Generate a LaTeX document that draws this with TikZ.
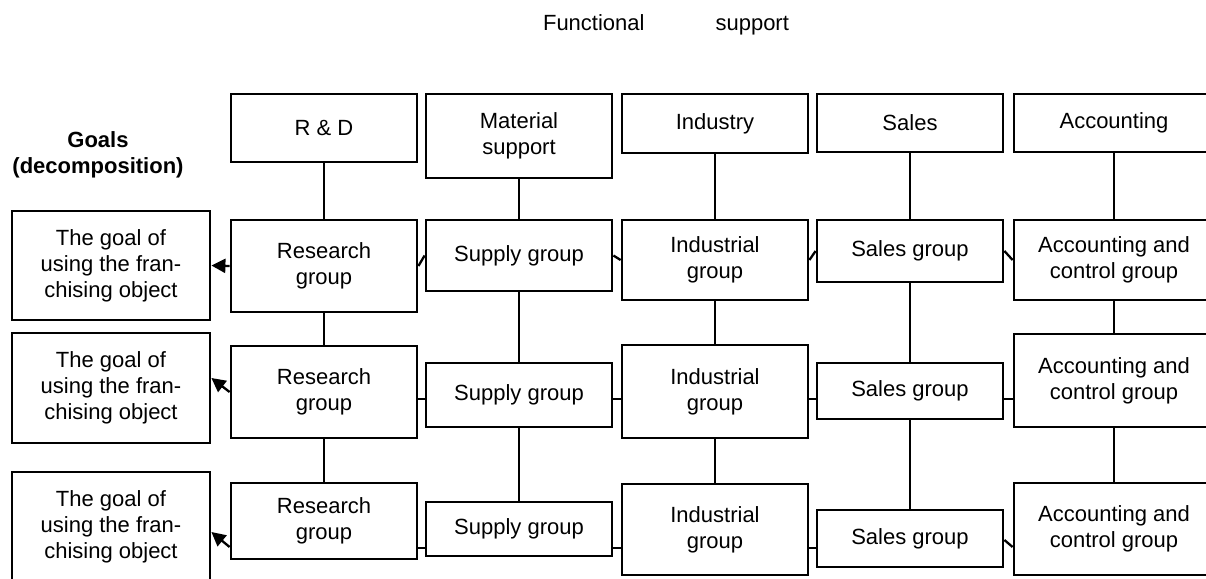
\documentclass[tikz,border=0pt]{standalone}
\usepackage{fontspec}
\setmainfont{Liberation Sans}
\usetikzlibrary{arrows.meta}
\begin{document}
\begin{tikzpicture}[x=1pt,y=-1pt,
  box/.style={draw, line width=2.8pt, rectangle, inner sep=0pt, align=center,
    font=\fontsize{22}{26}\selectfont, minimum width=186pt},
  link/.style={line width=2.3pt},
  goalarrow/.style={line width=2.3pt, -{Triangle[length=14pt,width=14pt]}},
  label/.style={align=center, inner sep=0pt, font=\fontsize{22}{26}\selectfont}]
\useasboundingbox (0,0) rectangle (1206,578);
\clip (0,0) rectangle (1206,578);

% headings
\node[label] (title) at (666,25) {Functional\hspace{71pt}support};
\node[label, font=\fontsize{22}{26}\selectfont\bfseries] (goals) at (98,155) {Goals\\(decomposition)};

% functional support boxes
\node[box, minimum height=68pt] (rd)  at (324,128)   {R \& D};
\node[box, minimum height=84pt] (ms)  at (519,136)   {Material\\support};
\node[box, minimum height=59pt] (ind) at (715,123.5) {Industry};
\node[box, minimum height=58pt] (sal) at (910,123)   {Sales};
\node[box, minimum height=58pt, minimum width=200pt] (acc) at (1114,123) {Accounting};

% row 1
\node[box, minimum height=92pt] (r1)  at (324,266)   {Research\\group};
\node[box, minimum height=71pt] (s1)  at (519,255.5) {Supply group};
\node[box, minimum height=80pt] (i1)  at (715,260)   {Industrial\\group};
\node[box, minimum height=62pt] (sa1) at (910,251)   {Sales group};
\node[box, minimum height=80pt, minimum width=200pt] (a1) at (1114,260) {Accounting and\\control group};

% row 2
\node[box, minimum height=92pt] (r2)  at (324,392)   {Research\\group};
\node[box, minimum height=64pt] (s2)  at (519,395)   {Supply group};
\node[box, minimum height=93pt] (i2)  at (715,391.5) {Industrial\\group};
\node[box, minimum height=56pt] (sa2) at (910,391)   {Sales group};
\node[box, minimum height=93pt, minimum width=200pt] (a2) at (1114,380.5) {Accounting and\\control group};

% row 3
\node[box, minimum height=76pt] (r3)  at (324,521)   {Research\\group};
\node[box, minimum height=54pt] (s3)  at (519,529)   {Supply group};
\node[box, minimum height=91pt] (i3)  at (715,529.5) {Industrial\\group};
\node[box, minimum height=57pt] (sa3) at (910,538.5) {Sales group};
\node[box, minimum height=92pt, minimum width=200pt] (a3) at (1114,529) {Accounting and\\control group};

% goal boxes
\node[box, minimum width=198pt, minimum height=109pt] (g1) at (111,265.5) {The goal of\\using the fran-\\chising object};
\node[box, minimum width=198pt, minimum height=110pt] (g2) at (111,388) {The goal of\\using the fran-\\chising object};
\node[box, minimum width=198pt, minimum height=110pt] (g3) at (111,527) {The goal of\\using the fran-\\chising object};

% helper heights
\coordinate (yrow2) at (0,399);
\coordinate (yrow3) at (0,548);
\coordinate (ysa3) at (0,540);
\coordinate (ya3) at (0,547);
\coordinate (yg2) at (0,378);
\coordinate (yr3) at (0,547);
\coordinate (yg3) at (0,532);

% vertical links
\foreach \top/\a/\b/\c in {rd/r1/r2/r3, ms/s1/s2/s3, ind/i1/i2/i3, sal/sa1/sa2/sa3, acc/a1/a2/a3}{
  \draw[link] (\top.south) -- (\a.north);
  \draw[link] (\a.south) -- (\b.north);
  \draw[link] (\b.south) -- (\c.north);
}

% row 1 horizontal links
\draw[link] (r1.east) -- (s1.west);
\draw[link] (s1.east) -- (i1.west);
\draw[link] (i1.east) -- (sa1.west);
\draw[link] (sa1.east) -- (a1.west);

% row 2 horizontal links
\draw[link] (r2.east |- yrow2) -- (s2.west |- yrow2);
\draw[link] (s2.east |- yrow2) -- (i2.west |- yrow2);
\draw[link] (i2.east |- yrow2) -- (sa2.west |- yrow2);
\draw[link] (sa2.east |- yrow2) -- (a2.west |- yrow2);

% row 3 horizontal links
\draw[link] (r3.east |- yrow3) -- (s3.west |- yrow3);
\draw[link] (s3.east |- yrow3) -- (i3.west |- yrow3);
\draw[link] (i3.east |- yrow3) -- (sa3.west |- yrow3);
\draw[link] (sa3.east |- ysa3) -- (a3.west |- ya3);

% arrows to goals
\draw[goalarrow] (r1.west) -- (g1.east);
\draw[goalarrow] (r2.west) -- (g2.east |- yg2);
\draw[goalarrow] (r3.west |- yr3) -- (g3.east |- yg3);
\end{tikzpicture}
\end{document}
